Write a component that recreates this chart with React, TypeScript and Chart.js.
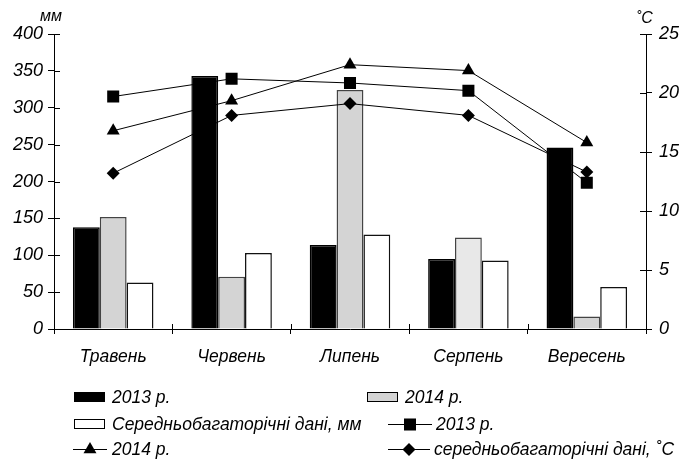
import React, { useEffect, useRef } from "react";
import { Chart, registerables } from "chart.js";

Chart.register(...registerables);

const categories = ["Травень", "Червень", "Липень", "Серпень", "Вересень"];
const precip2013 = [138, 343, 114, 95, 246];
const precip2014 = [152, 71, 324, 124, 17];
const precipAvg = [63, 103, 128, 93, 57];
const temp2013 = [19.7, 21.2, 20.85, 20.2, 12.4];
const temp2014 = [16.8, 19.35, 22.4, 21.9, 15.8];
const tempAvg = [13.2, 18.1, 19.1, 18.1, 13.3];
const leftTicks = [0, 50, 100, 150, 200, 250, 300, 350, 400];
const rightTicks = [0, 5, 10, 15, 20, 25];

const labels = {
  b2013: "2013 р.",
  b2014: "2014 р.",
  bAvg: "Середньобагаторічні дані, мм",
  l2013: "2013 р.",
  l2014: "2014 р.",
  lAvg: "середньобагаторічні дані, ˚C",
  yLeft: "мм",
  yRight: "˚C",
};

const FONT = "'Liberation Sans', Arial, sans-serif";

function drawLineMarker(ctx: any, x1: number, x2: number, y: number, d: any) {
  ctx.strokeStyle = "#000";
  ctx.lineWidth = 1;
  ctx.beginPath();
  ctx.moveTo(x1, y + 0.5);
  ctx.lineTo(x2, y + 0.5);
  ctx.stroke();
  const cx = (x1 + x2) / 2;
  const cy = y + 0.5;
  const r = d.pointRadius;
  ctx.fillStyle = "#000";
  ctx.beginPath();
  if (d.pointStyle === "rect") {
    const s = Math.SQRT1_2 * r;
    ctx.rect(cx - s, cy - s, 2 * s, 2 * s);
  } else if (d.pointStyle === "triangle") {
    ctx.moveTo(cx, cy - r);
    ctx.lineTo(cx + r * 0.866, cy + r * 0.5);
    ctx.lineTo(cx - r * 0.866, cy + r * 0.5);
    ctx.closePath();
  } else {
    ctx.moveTo(cx, cy - r);
    ctx.lineTo(cx + r, cy);
    ctx.lineTo(cx, cy + r);
    ctx.lineTo(cx - r, cy);
    ctx.closePath();
  }
  ctx.fill();
}

const extrasPlugin = {
  id: "extras",
  afterDraw(chart: any) {
    const ctx = chart.ctx;
    const ca = chart.chartArea;
    const xs = chart.scales.x;
    const yl = chart.scales.y;
    const yr = chart.scales.y1;
    ctx.save();
    ctx.strokeStyle = "#000";
    ctx.lineWidth = 1;
    ctx.beginPath();
    leftTicks.forEach((v) => {
      const py = Math.round(yl.getPixelForValue(v)) + 0.5;
      ctx.moveTo(ca.left, py);
      ctx.lineTo(ca.left + 6, py);
    });
    rightTicks.forEach((v) => {
      const py = Math.round(yr.getPixelForValue(v)) + 0.5;
      ctx.moveTo(ca.right, py);
      ctx.lineTo(ca.right - 6, py);
    });
    for (let i = 0; i < categories.length - 1; i++) {
      const px = Math.round(xs.getPixelForValue(i + 0.5)) + 0.5;
      ctx.moveTo(px, ca.bottom);
      ctx.lineTo(px, ca.bottom - 5);
    }
    ctx.stroke();

    ctx.fillStyle = "#000";
    ctx.font = `italic 16px ${FONT}`;
    ctx.textBaseline = "alphabetic";
    ctx.textAlign = "left";
    ctx.fillText(labels.yLeft, 40, 21);
    ctx.fillText(labels.yRight, 636, 23);

    const ds = chart.data.datasets;
    const rows = [397, 424, 449];
    const drawBox = (x: number, y: number, fill: string) => {
      ctx.fillStyle = fill;
      ctx.fillRect(x, y - 5, 31, 10);
      ctx.strokeStyle = "#000";
      ctx.lineWidth = 1;
      ctx.strokeRect(x + 0.5, y - 4.5, 30, 9);
    };
    const drawText = (t: string, x: number, y: number) => {
      ctx.fillStyle = "#000";
      ctx.font = `italic 17.5px ${FONT}`;
      ctx.textBaseline = "middle";
      ctx.textAlign = "left";
      ctx.fillText(t, x, y + 1);
    };
    drawBox(74, rows[0], "#000");
    drawText(ds[0].label, 112, rows[0]);
    drawBox(367, rows[0], "#d4d4d4");
    drawText(ds[1].label, 405, rows[0]);
    drawBox(74, rows[1], "#fff");
    drawText(ds[2].label, 112, rows[1]);
    drawLineMarker(ctx, 388, 432, rows[1], ds[3]);
    drawText(ds[3].label, 436, rows[1]);
    drawLineMarker(ctx, 73, 107, rows[2], ds[4]);
    drawText(ds[4].label, 112, rows[2]);
    drawLineMarker(ctx, 388, 430, rows[2], ds[5]);
    drawText(ds[5].label, 434, rows[2]);
    ctx.restore();
  },
};

export default function App() {
  const ref = useRef<HTMLCanvasElement>(null);
  useEffect(() => {
    if (!ref.current) return;
    const barCommon = {
      type: "bar" as const,
      yAxisID: "y",
      borderWidth: 1.5,
      categoryPercentage: 0.68,
      barPercentage: 1,
      order: 2,
    };
    const lineCommon = {
      type: "line" as const,
      yAxisID: "y1",
      borderColor: "#000",
      borderWidth: 1,
      pointBackgroundColor: "#000",
      pointBorderWidth: 0,
      fill: false,
      tension: 0,
      order: 1,
    };
    const chart = new Chart(ref.current, {
      data: {
        labels: categories,
        datasets: [
          { ...barCommon, label: labels.b2013, data: precip2013, backgroundColor: "#000", borderColor: "#000" },
          {
            ...barCommon,
            label: labels.b2014,
            data: precip2014,
            backgroundColor: ["#d4d4d4", "#d4d4d4", "#d4d4d4", "#e8e8e8", "#d4d4d4"],
            borderColor: "#444",
          },
          { ...barCommon, label: labels.bAvg, data: precipAvg, backgroundColor: "#fff", borderColor: "#111" },
          { ...lineCommon, label: labels.l2013, data: temp2013, pointStyle: "rect", pointRadius: 8.5 },
          { ...lineCommon, label: labels.l2014, data: temp2014, pointStyle: "triangle", pointRadius: 7.5 },
          { ...lineCommon, label: labels.lAvg, data: tempAvg, pointStyle: "rectRot", pointRadius: 6.5 },
        ] as any,
      },
      options: {
        animation: false,
        responsive: true,
        maintainAspectRatio: false,
        layout: { padding: { top: 34, left: 0, right: 0, bottom: 0 } },
        plugins: { legend: { display: false }, tooltip: { enabled: false } },
        scales: {
          x: {
            offset: true,
            grid: { display: true, offset: true, drawOnChartArea: false, tickLength: 5, color: "#000" },
            border: { color: "#000", width: 1 },
            ticks: { color: "#000", font: { family: FONT, size: 17.5, style: "italic" }, padding: 13, maxRotation: 0 },
            afterFit(scale: any) {
              scale.height = 132;
            },
          },
          y: {
            position: "left",
            min: 0,
            max: 400,
            grid: { display: true, drawOnChartArea: false, tickLength: 6, color: "#000" },
            border: { color: "#000", width: 1 },
            ticks: { stepSize: 50, color: "#000", font: { family: FONT, size: 18, style: "italic" }, padding: 5 },
            afterFit(scale: any) {
              scale.width = 54;
            },
          },
          y1: {
            position: "right",
            min: 0,
            max: 25,
            grid: { display: true, drawOnChartArea: false, tickLength: 6, color: "#000" },
            border: { color: "#000", width: 1 },
            ticks: { stepSize: 5, color: "#000", font: { family: FONT, size: 18, style: "italic" }, padding: 7 },
            afterFit(scale: any) {
              scale.width = 43;
            },
          },
        },
      } as any,
      plugins: [extrasPlugin],
    });
    return () => chart.destroy();
  }, []);
  return (
    <div style={{ position: "fixed", left: 0, top: 0, width: 689, height: 461, background: "#fff" }}>
      <canvas ref={ref} />
    </div>
  );
}
